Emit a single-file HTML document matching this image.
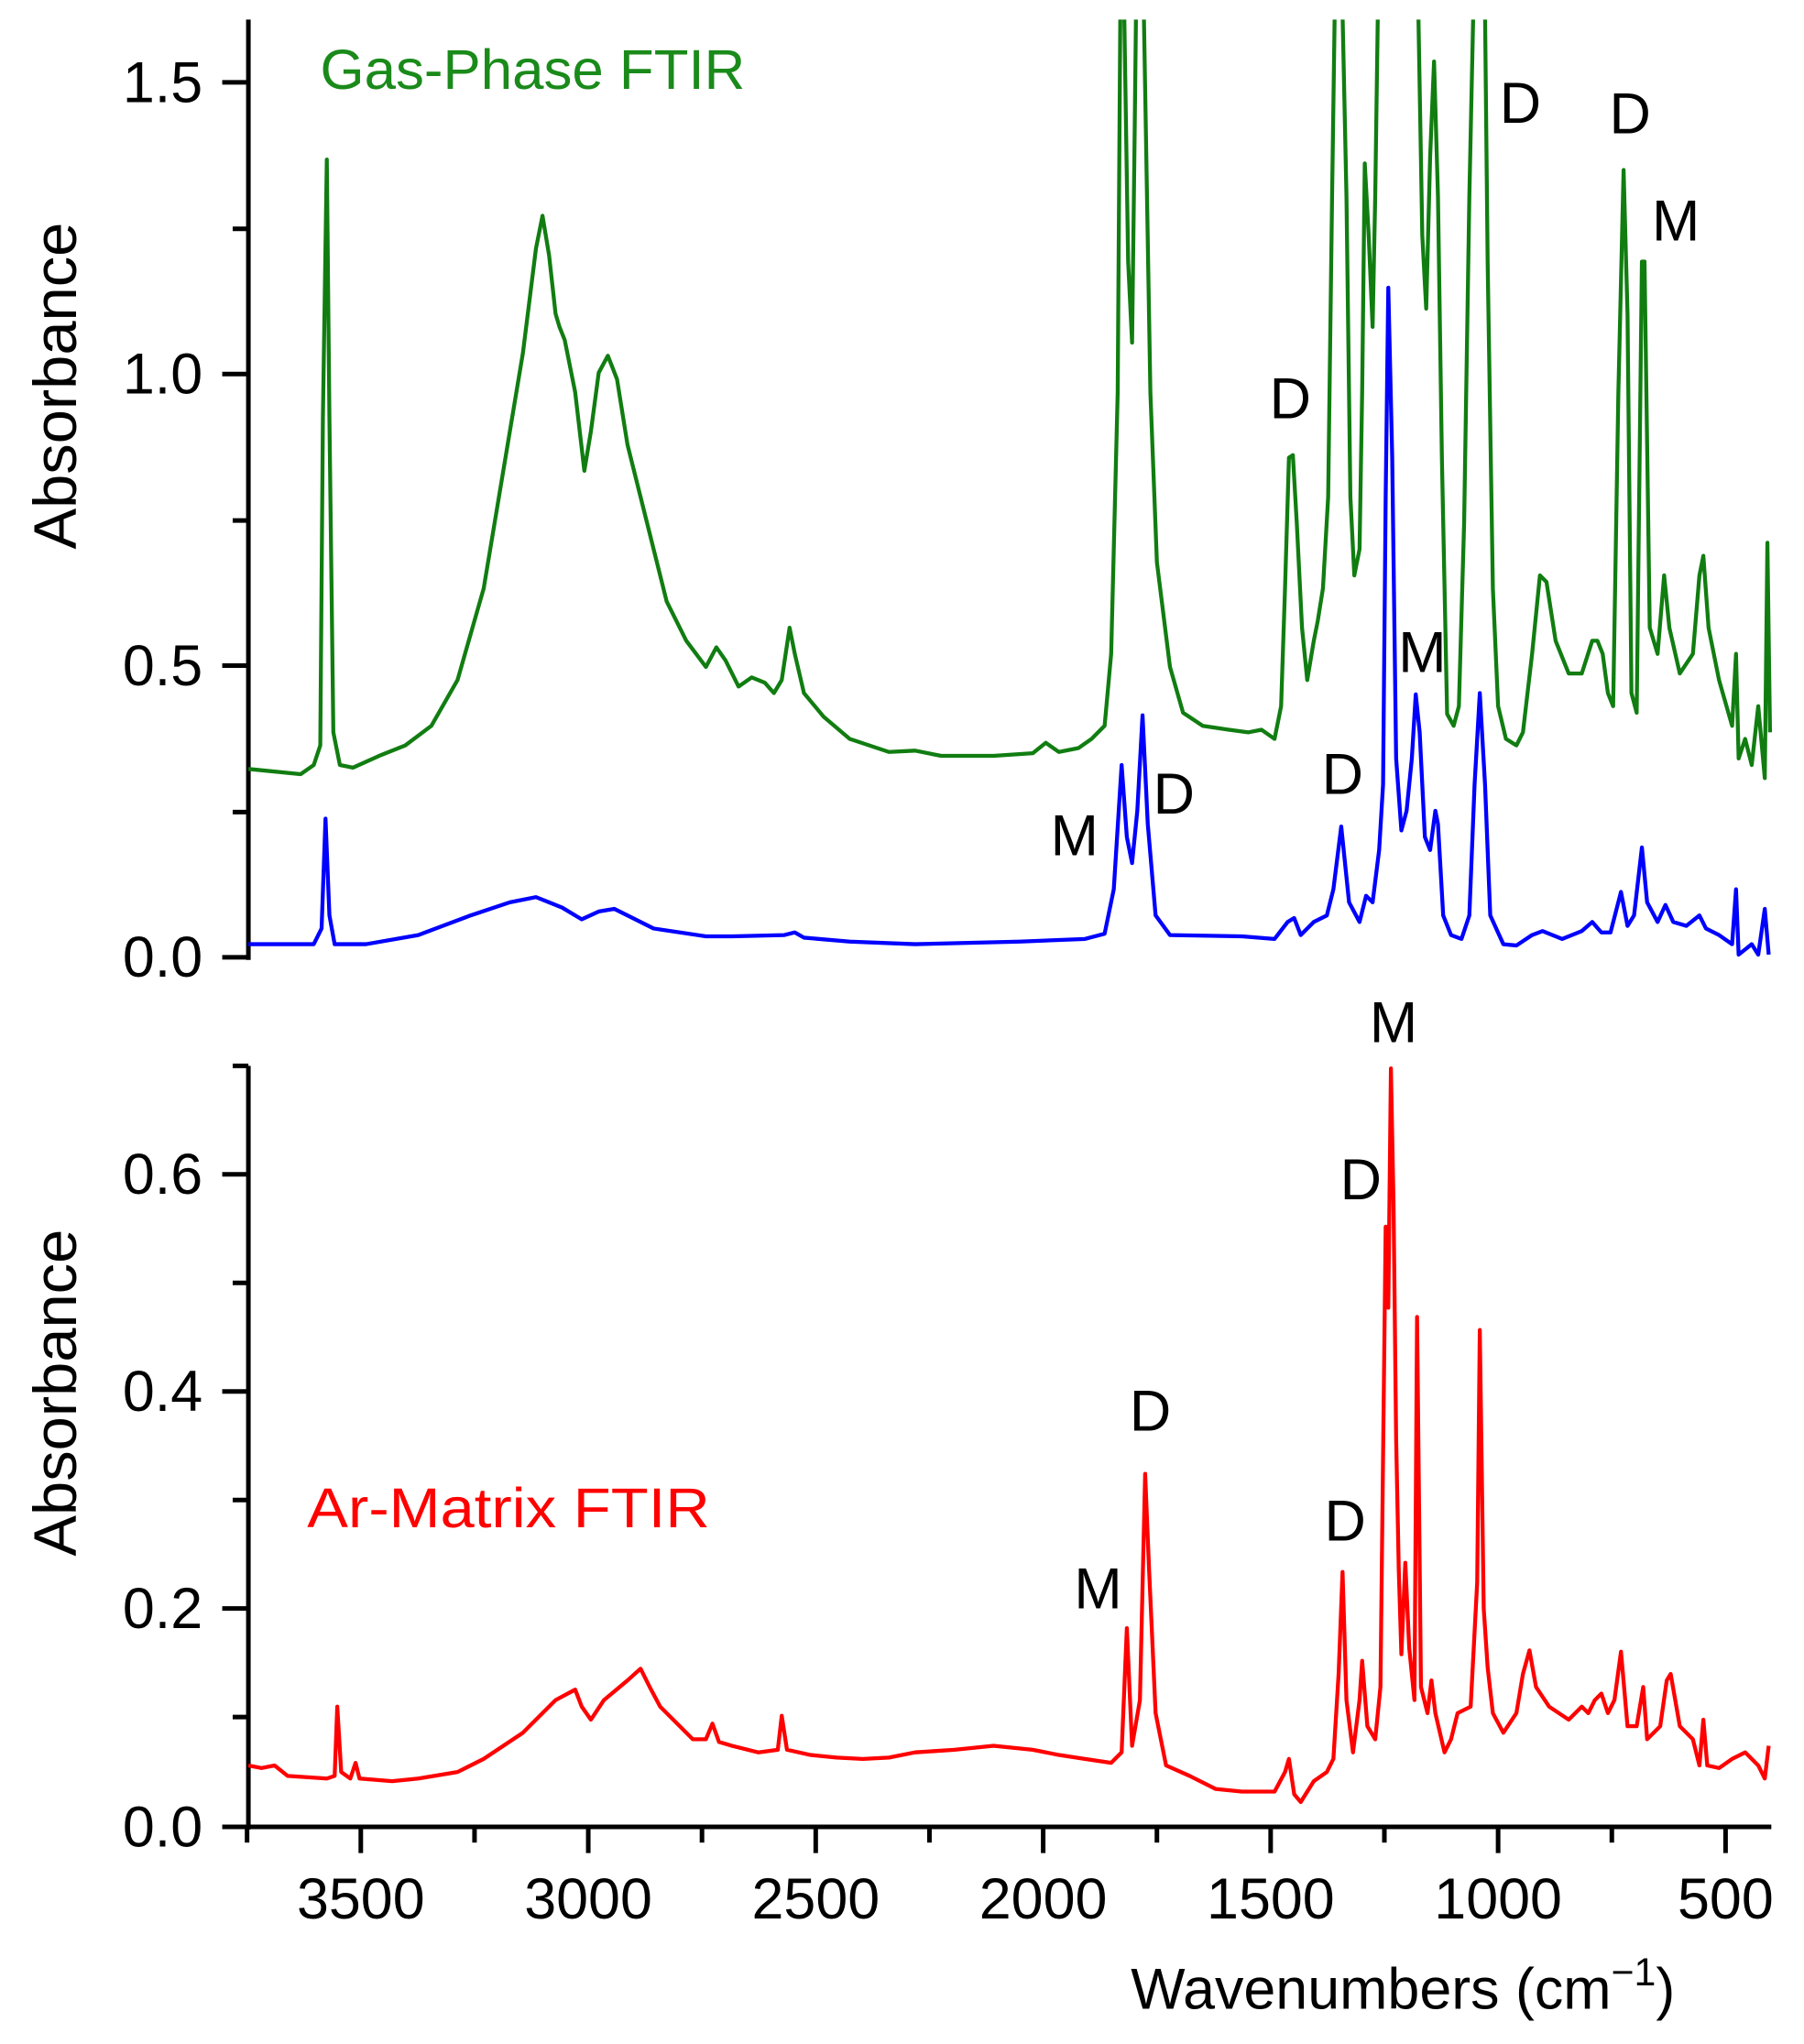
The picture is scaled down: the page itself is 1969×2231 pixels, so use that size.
<!DOCTYPE html>
<html><head><meta charset="utf-8"><style>
html,body{margin:0;padding:0;background:#fff;}
svg{display:block;}
text{font-family:"Liberation Sans",sans-serif;}
</style></head><body>
<svg width="1969" height="2231" viewBox="0 0 1380 1563" preserveAspectRatio="none" xmlns="http://www.w3.org/2000/svg">
<defs><clipPath id="ct"><rect x="190" y="15" width="1180" height="740"/></clipPath></defs>
<rect width="1380" height="1563" fill="#fff"/>
<g stroke="#000" stroke-width="3.5" fill="none">
<line x1="190" y1="15" x2="190" y2="734"/>
<line x1="170" y1="63" x2="190" y2="63"/><line x1="170" y1="286" x2="190" y2="286"/><line x1="170" y1="509" x2="190" y2="509"/><line x1="170" y1="732" x2="190" y2="732"/>
<line x1="178" y1="175" x2="190" y2="175"/><line x1="178" y1="398" x2="190" y2="398"/><line x1="178" y1="621" x2="190" y2="621"/>
<line x1="190" y1="815" x2="190" y2="1399"/>
<line x1="188" y1="1397" x2="1355" y2="1397"/>
<line x1="170" y1="898" x2="190" y2="898"/><line x1="170" y1="1064" x2="190" y2="1064"/><line x1="170" y1="1230" x2="190" y2="1230"/><line x1="170" y1="1397" x2="190" y2="1397"/>
<line x1="178" y1="815" x2="190" y2="815"/><line x1="178" y1="981" x2="190" y2="981"/><line x1="178" y1="1147" x2="190" y2="1147"/><line x1="178" y1="1313" x2="190" y2="1313"/>
<line x1="276" y1="1397" x2="276" y2="1417"/><line x1="450" y1="1397" x2="450" y2="1417"/><line x1="624" y1="1397" x2="624" y2="1417"/><line x1="798" y1="1397" x2="798" y2="1417"/><line x1="972" y1="1397" x2="972" y2="1417"/><line x1="1146" y1="1397" x2="1146" y2="1417"/><line x1="1320" y1="1397" x2="1320" y2="1417"/>
<line x1="189" y1="1397" x2="189" y2="1409"/><line x1="363" y1="1397" x2="363" y2="1409"/><line x1="537" y1="1397" x2="537" y2="1409"/><line x1="711" y1="1397" x2="711" y2="1409"/><line x1="885" y1="1397" x2="885" y2="1409"/><line x1="1059" y1="1397" x2="1059" y2="1409"/><line x1="1233" y1="1397" x2="1233" y2="1409"/>
</g>
<g font-size="44" fill="#000" text-anchor="end">
<text x="155" y="78">1.5</text><text x="155" y="301">1.0</text><text x="155" y="524">0.5</text><text x="155" y="747">0.0</text>
<text x="155" y="913">0.6</text><text x="155" y="1079">0.4</text><text x="155" y="1245">0.2</text><text x="155" y="1412">0.0</text>
</g>
<g font-size="44" fill="#000" text-anchor="middle">
<text x="276" y="1467">3500</text><text x="450" y="1467">3000</text><text x="624" y="1467">2500</text><text x="798" y="1467">2000</text><text x="972" y="1467">1500</text><text x="1146" y="1467">1000</text><text x="1320" y="1467">500</text>
<text transform="translate(58,295) rotate(-90)" font-size="46" textLength="250" lengthAdjust="spacingAndGlyphs">Absorbance</text>
<text transform="translate(58,1065) rotate(-90)" font-size="46" textLength="250" lengthAdjust="spacingAndGlyphs">Absorbance</text>
</g>
<text x="865" y="1536" font-size="44" fill="#000">Wavenumbers (cm<tspan font-size="30" dy="-18">−1</tspan><tspan dy="18">)</tspan></text>
<text x="245" y="68" font-size="43" fill="#1a8a1a" textLength="325" lengthAdjust="spacingAndGlyphs">Gas-Phase FTIR</text>
<text x="235" y="1168" font-size="43" fill="#ff0000" textLength="308" lengthAdjust="spacingAndGlyphs">Ar-Matrix FTIR</text>
<g font-size="44" fill="#000" text-anchor="middle">
<text x="1163" y="94">D</text><text x="1247" y="102">D</text><text x="1282" y="184">M</text><text x="987" y="320">D</text><text x="1088" y="514">M</text><text x="1027" y="607">D</text><text x="898" y="622">D</text><text x="822" y="654">M</text><text x="1066" y="797">M</text><text x="1041" y="917">D</text><text x="880" y="1094">D</text><text x="1029" y="1178">D</text><text x="840" y="1230">M</text>
</g>
<polyline clip-path="url(#ct)" fill="none" stroke="#117d11" stroke-width="3" stroke-linejoin="round" points="190,588 230,592 240,585 245,570 247,320 250,122 252,320 255,560 260,585 270,587 290,578 310,570 330,555 350,520 370,450 390,330 400,270 410,190 415,165 420,195 425,240 428,250 432,260 440,300 447,360 452,330 458,285 465,272 472,290 480,340 495,400 510,460 525,490 540,510 548,495 555,505 565,525 575,518 585,522 592,530 598,520 604,480 608,500 615,530 630,548 650,565 680,575 700,574 720,578 760,578 790,576 800,568 810,575 825,572 835,565 845,555 850,500 855,300 857,10 860,10 863,200 866,262 868,100 869,10 875,10 880,300 885,430 895,510 905,545 920,555 940,558 955,560 965,558 975,565 980,540 983,450 986,350 989,348 992,400 996,480 1000,520 1005,490 1008,475 1012,450 1016,380 1019,150 1021,10 1027,10 1030,150 1033,380 1036,440 1040,420 1042,300 1044,125 1047,180 1050,250 1052,150 1054,10 1085,10 1088,180 1091,236 1094,120 1097,47 1100,150 1103,350 1107,546 1112,555 1116,540 1120,400 1124,150 1127,10 1136,10 1138,200 1142,450 1146,540 1152,565 1160,570 1165,560 1172,500 1178,440 1183,445 1190,490 1200,515 1210,515 1218,490 1222,490 1226,500 1230,530 1234,540 1238,300 1242,130 1245,240 1248,530 1252,545 1256,200 1258,200 1262,480 1268,500 1273,440 1277,480 1285,515 1295,500 1300,440 1303,425 1307,480 1315,520 1325,555 1328,500 1330,580 1335,565 1340,585 1345,540 1350,595 1352,415 1354,560"/>
<polyline fill="none" stroke="#0000ff" stroke-width="3" stroke-linejoin="round" points="190,722 240,722 246,710 249,626 252,700 256,722 280,722 320,715 360,700 390,690 410,686 420,690 430,694 445,703 458,697 470,695 480,700 500,710 540,716 560,716 600,715 608,713 615,717 650,720 700,722 780,720 830,718 845,714 852,680 858,585 862,640 866,660 870,620 874,547 878,630 884,700 895,715 950,716 975,718 985,705 990,702 995,715 1005,705 1015,700 1020,680 1026,632 1032,690 1040,705 1045,685 1050,690 1055,650 1058,600 1060,380 1062,220 1065,350 1068,580 1072,635 1076,620 1080,580 1083,531 1086,560 1090,640 1094,650 1098,620 1100,630 1104,700 1110,715 1118,718 1124,700 1128,600 1132,530 1136,600 1140,700 1150,722 1160,723 1172,715 1180,712 1195,718 1210,712 1218,705 1225,713 1232,713 1240,682 1245,708 1250,700 1256,648 1260,690 1268,705 1274,692 1280,705 1290,708 1300,700 1305,710 1315,715 1325,722 1328,680 1330,730 1340,722 1345,730 1350,695 1353,730"/>
<polyline fill="none" stroke="#ff0000" stroke-width="3" stroke-linejoin="round" points="190,1350 200,1352 210,1350 220,1358 250,1360 256,1358 258,1305 261,1355 268,1360 272,1348 275,1360 300,1362 320,1360 350,1355 370,1345 385,1335 400,1325 415,1310 425,1300 440,1292 445,1305 452,1315 462,1300 480,1285 490,1276 497,1290 505,1305 515,1315 530,1330 540,1330 545,1318 550,1332 560,1335 580,1340 595,1338 598,1312 602,1338 620,1342 640,1344 660,1345 680,1344 700,1340 730,1338 760,1335 790,1338 810,1342 830,1345 850,1348 858,1340 862,1245 866,1335 872,1300 876,1127 879,1200 884,1310 892,1350 910,1358 930,1368 950,1370 975,1370 983,1355 986,1345 990,1372 995,1378 1005,1362 1015,1355 1020,1345 1024,1280 1027,1202 1030,1300 1035,1340 1040,1300 1042,1270 1046,1320 1052,1330 1056,1290 1060,938 1062,1000 1064,817 1066,920 1068,1100 1070,1200 1072,1265 1075,1195 1078,1260 1082,1300 1084,1007 1087,1290 1092,1310 1095,1285 1098,1310 1105,1340 1110,1330 1115,1310 1125,1305 1130,1210 1132,1017 1135,1230 1138,1275 1142,1310 1150,1325 1160,1310 1165,1280 1170,1262 1175,1290 1185,1305 1200,1315 1210,1305 1215,1310 1220,1300 1225,1295 1230,1310 1235,1300 1240,1263 1245,1320 1252,1320 1257,1290 1260,1330 1270,1320 1275,1285 1278,1280 1285,1320 1295,1330 1300,1350 1303,1315 1306,1350 1315,1352 1325,1345 1335,1340 1345,1350 1350,1360 1353,1335"/>
</svg>
</body></html>
